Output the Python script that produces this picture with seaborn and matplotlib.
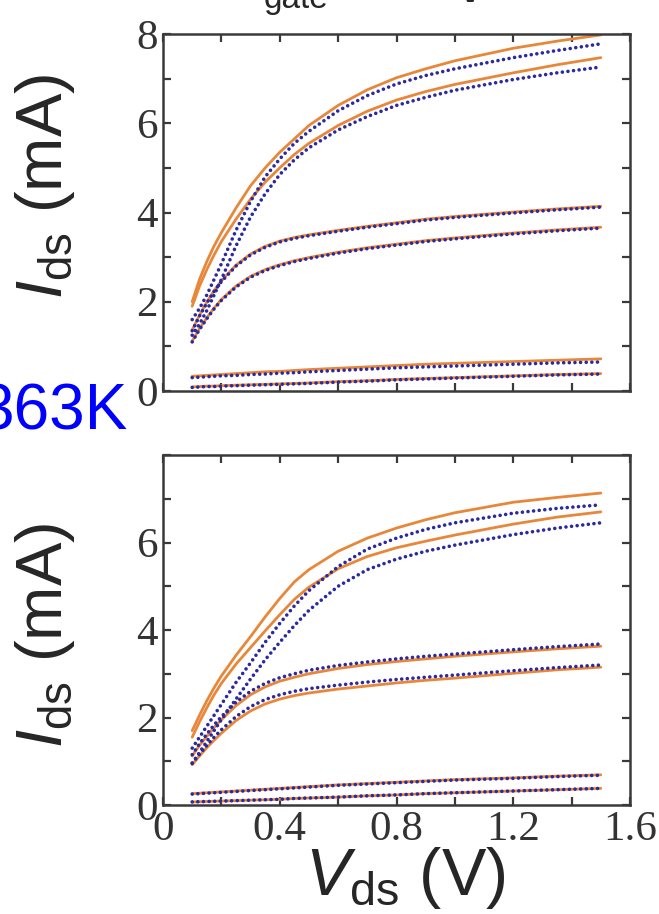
import numpy as np
import pandas as pd
import matplotlib
matplotlib.use("Agg")
import matplotlib.pyplot as plt
from matplotlib.ticker import MultipleLocator, FuncFormatter
import seaborn as sns

# ---------------- data ----------------
vds = [0.1, 0.125, 0.15, 0.175, 0.2, 0.25, 0.3, 0.35, 0.4, 0.45, 0.5,
       0.6, 0.7, 0.8, 0.9, 1.0, 1.2, 1.35, 1.5]

# top panel
top_meas = {
    "A": [1.6, 1.85, 2.15, 2.5, 2.85, 3.6, 4.25, 4.8, 5.2, 5.55, 5.82, 6.28, 6.62, 6.88, 7.07, 7.22, 7.47, 7.63, 7.78],
    "B": [1.25, 1.5, 1.8, 2.15, 2.5, 3.25, 3.9, 4.42, 4.85, 5.18, 5.45, 5.85, 6.15, 6.4, 6.58, 6.74, 6.98, 7.13, 7.26],
    "C": [1.35, 1.68, 1.97, 2.23, 2.45, 2.8, 3.05, 3.22, 3.34, 3.42, 3.48, 3.58, 3.67, 3.75, 3.83, 3.89, 3.99, 4.06, 4.12],
    "D": [1.1, 1.38, 1.62, 1.84, 2.03, 2.33, 2.55, 2.7, 2.81, 2.9, 2.97, 3.09, 3.19, 3.27, 3.35, 3.41, 3.52, 3.59, 3.65],
    "E": [0.3, 0.31, 0.32, 0.33, 0.34, 0.35, 0.37, 0.38, 0.4, 0.41, 0.43, 0.46, 0.49, 0.52, 0.54, 0.56, 0.6, 0.63, 0.65],
    "F": [0.08, 0.09, 0.1, 0.1, 0.11, 0.12, 0.13, 0.14, 0.15, 0.16, 0.17, 0.2, 0.22, 0.25, 0.27, 0.29, 0.33, 0.36, 0.38],
}
top_sim = {
    "A": [2.0, 2.5, 2.9, 3.25, 3.55, 4.1, 4.6, 5.0, 5.35, 5.65, 5.95, 6.4, 6.75, 7.02, 7.22, 7.4, 7.68, 7.84, 7.98],
    "B": [1.9, 2.35, 2.72, 3.05, 3.35, 3.85, 4.3, 4.68, 5.0, 5.3, 5.55, 5.95, 6.27, 6.52, 6.71, 6.87, 7.13, 7.31, 7.47],
    "C": [1.37, 1.7, 1.99, 2.25, 2.47, 2.82, 3.07, 3.24, 3.36, 3.44, 3.5, 3.6, 3.69, 3.77, 3.85, 3.91, 4.01, 4.08, 4.14],
    "D": [1.12, 1.4, 1.64, 1.86, 2.05, 2.35, 2.57, 2.72, 2.83, 2.92, 2.99, 3.11, 3.21, 3.29, 3.37, 3.43, 3.54, 3.61, 3.67],
    "E": [0.33, 0.34, 0.35, 0.36, 0.37, 0.39, 0.41, 0.43, 0.44, 0.46, 0.48, 0.51, 0.54, 0.57, 0.6, 0.62, 0.66, 0.69, 0.72],
    "F": [0.09, 0.1, 0.11, 0.11, 0.12, 0.13, 0.14, 0.15, 0.16, 0.17, 0.18, 0.21, 0.23, 0.26, 0.28, 0.3, 0.34, 0.37, 0.39],
}

# bottom panel (363 K)
bot_meas = {
    "A": [1.3, 1.55, 1.8, 2.05, 2.3, 2.8, 3.25, 3.72, 4.15, 4.55, 4.9, 5.45, 5.85, 6.1, 6.3, 6.45, 6.67, 6.78, 6.86],
    "B": [0.96, 1.2, 1.45, 1.7, 1.95, 2.42, 2.88, 3.32, 3.72, 4.1, 4.45, 5.0, 5.38, 5.62, 5.8, 5.94, 6.18, 6.33, 6.45],
    "C": [1.15, 1.4, 1.62, 1.83, 2.02, 2.35, 2.6, 2.78, 2.91, 3.0, 3.08, 3.19, 3.27, 3.34, 3.4, 3.45, 3.55, 3.62, 3.68],
    "D": [0.95, 1.16, 1.36, 1.55, 1.72, 2.02, 2.25, 2.41, 2.52, 2.6, 2.66, 2.74, 2.81, 2.87, 2.92, 2.97, 3.07, 3.14, 3.2],
    "E": [0.25, 0.26, 0.27, 0.28, 0.29, 0.31, 0.33, 0.35, 0.37, 0.39, 0.41, 0.45, 0.48, 0.51, 0.54, 0.57, 0.61, 0.65, 0.68],
    "F": [0.07, 0.075, 0.08, 0.085, 0.09, 0.1, 0.11, 0.12, 0.13, 0.15, 0.16, 0.18, 0.21, 0.23, 0.26, 0.28, 0.32, 0.35, 0.38],
}
bot_sim = {
    "A": [1.7, 2.05, 2.38, 2.68, 2.95, 3.42, 3.85, 4.3, 4.72, 5.1, 5.38, 5.8, 6.1, 6.33, 6.52, 6.68, 6.92, 7.03, 7.13],
    "B": [1.55, 1.9, 2.22, 2.52, 2.78, 3.22, 3.6, 3.98, 4.35, 4.7, 4.98, 5.4, 5.68, 5.88, 6.03, 6.17, 6.42, 6.58, 6.7],
    "C": [1.12, 1.36, 1.57, 1.77, 1.95, 2.27, 2.52, 2.7, 2.83, 2.92, 3.0, 3.12, 3.21, 3.28, 3.34, 3.4, 3.5, 3.57, 3.63],
    "D": [0.92, 1.12, 1.31, 1.48, 1.64, 1.93, 2.15, 2.31, 2.42, 2.5, 2.56, 2.65, 2.72, 2.79, 2.85, 2.9, 3.01, 3.09, 3.15],
    "E": [0.26, 0.27, 0.28, 0.29, 0.3, 0.32, 0.34, 0.36, 0.38, 0.4, 0.42, 0.46, 0.49, 0.52, 0.55, 0.58, 0.62, 0.66, 0.69],
    "F": [0.07, 0.075, 0.08, 0.085, 0.09, 0.1, 0.11, 0.12, 0.13, 0.15, 0.16, 0.18, 0.21, 0.23, 0.26, 0.28, 0.32, 0.35, 0.38],
}

bot_ytick_labels = [0, 2, 4, 6]
temp_label = "363K"

# ---------------- style ----------------
sns.set_theme(style="ticks")
plt.rcParams["font.family"] = ["Liberation Sans", "DejaVu Sans"]
plt.rcParams["mathtext.fontset"] = "custom"
plt.rcParams["mathtext.rm"] = "Liberation Sans"
plt.rcParams["mathtext.it"] = "Liberation Sans:italic"

ORANGE = "#E8873A"
BLUE = "#2A2A9E"
SPINE = "#3a3a3a"


def to_long(d):
    rows = []
    for name, vals in d.items():
        for v, i in zip(vds, vals):
            rows.append({"Vds": v, "Ids": i, "curve": name})
    return pd.DataFrame(rows)


fig = plt.figure(figsize=(6.59, 9.14), dpi=100)
ax_top = fig.add_axes([163 / 659, 1 - 391 / 914, (630 - 163) / 659, (391 - 34) / 914])
ax_bot = fig.add_axes([163 / 659, 1 - 805 / 914, (630 - 163) / 659, (805 - 455) / 914])

int_fmt = FuncFormatter(lambda v, p: f"{int(round(v))}")
x_fmt = FuncFormatter(lambda v, p: "0" if abs(v) < 1e-9 else f"{v:g}")


def draw(ax, meas, sim, show_x):
    ds = to_long(sim)
    dm = to_long(meas)
    sns.lineplot(data=ds, x="Vds", y="Ids", units="curve", estimator=None,
                 color=ORANGE, lw=2.0, ax=ax, zorder=2)
    sns.lineplot(data=dm, x="Vds", y="Ids", units="curve", estimator=None,
                 color=BLUE, lw=2.6, ax=ax, zorder=3)
    for ln in ax.lines[len(sim):]:
        ln.set_dashes((0.01, 1.55))
        ln.set_dash_capstyle("round")
    for ln in ax.lines[:len(sim)]:
        ln.set_solid_joinstyle("round")
    ax.set_xlim(0, 1.6)
    ax.set_ylim(0, 8)
    ax.xaxis.set_major_locator(MultipleLocator(0.4))
    ax.xaxis.set_minor_locator(MultipleLocator(0.2))
    ax.yaxis.set_major_locator(MultipleLocator(2))
    ax.yaxis.set_minor_locator(MultipleLocator(1))
    ax.xaxis.set_major_formatter(x_fmt)
    ax.yaxis.set_major_formatter(int_fmt)
    ax.tick_params(which="both", direction="in", top=True, right=True,
                   length=6, width=1.6, color=SPINE,
                   labelsize=31, labelcolor="#333333", pad=4)
    if not show_x:
        ax.tick_params(axis="x", labelbottom=False)
    for sp in ax.spines.values():
        sp.set_color(SPINE)
        sp.set_linewidth(1.8)
    ax.set_xlabel("")
    ax.set_ylabel("")


draw(ax_top, top_meas, top_sim, False)
draw(ax_bot, bot_meas, bot_sim, True)
ax_bot.set_yticks(bot_ytick_labels)
ax_bot.yaxis.set_minor_locator(MultipleLocator(1))
ax_bot.yaxis.set_major_formatter(int_fmt)
for ax in (ax_top, ax_bot):
    for lab in ax.get_xticklabels() + ax.get_yticklabels():
        lab.set_fontfamily("Liberation Serif")

# axis labels
fig.text(45 / 659, 1 - 186 / 914, r"$I_{\rm ds}$ (mA)", rotation=90,
         ha="center", va="center", fontsize=47)
fig.text(45 / 659, 1 - 635 / 914, r"$I_{\rm ds}$ (mA)", rotation=90,
         ha="center", va="center", fontsize=47)
fig.text(405 / 659, 1 - 895 / 914, r"$V_{\rm ds}$ (V)", ha="center",
         va="baseline", fontsize=48)

# temperature label (cut by the figure edge, as in the reference)
fig.text(128 / 659, 1 - 430 / 914, temp_label, ha="right", va="baseline",
         fontsize=46, color="#0000FF")

# top title fragment (cut by the figure edge, as in the reference)
fig.text(264 / 659, 1 - 8 / 914, "gate", ha="left", va="baseline", fontsize=24)
fig.text(470 / 659, 1 - 2 / 914, "V", ha="center", va="baseline", fontsize=46)

fig.savefig("out.png", dpi=100)
